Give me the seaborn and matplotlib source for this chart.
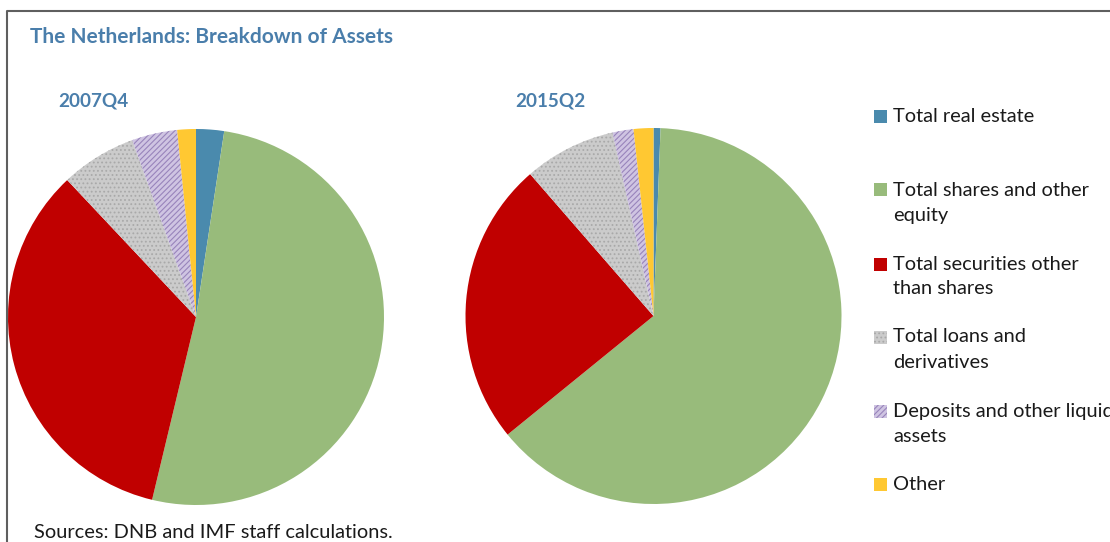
import numpy as np
import matplotlib
matplotlib.use("Agg")
import matplotlib.pyplot as plt
from matplotlib.patches import Rectangle
from matplotlib.lines import Line2D
import seaborn as sns

# data (shares of total assets, %)
categories = [
    "Total real estate",
    "Total shares and other\nequity",
    "Total securities other\nthan shares",
    "Total loans and\nderivatives",
    "Deposits and other liquid\nassets",
    "Other",
]
share_2007q4 = [2.4, 51.3, 34.2, 6.5, 3.9, 1.6]
share_2015q2 = [0.6, 63.6, 24.5, 7.9, 1.8, 1.7]
periods = ["2007Q4", "2015Q2"]

colors = ["#4a8aad", "#98bb7b", "#c00000", "#cbcbcb", "#cfc4e2", "#ffc832"]
hatch_colors = [None, None, None, "#a9a9a9", "#9884bb", None]
hatches = [None, None, None, "....", "//////", None]

W, H = 1110, 542
TITLE_BLUE = "#4a7eab"
TEXT_SIZE = 14.4

sns.set_theme(style="white")
plt.rcParams["font.family"] = ["Lato", "DejaVu Sans"]
plt.rcParams["hatch.linewidth"] = 0.8

fig = plt.figure(figsize=(W / 100, H / 100), dpi=100)


def px_axes(cx, cy, r):
    # pixel centre/radius -> figure-fraction axes box
    return [(cx - r) / W, (H - cy - r) / H, 2 * r / W, 2 * r / H]


def draw_pie(ax, values):
    wedges, _ = ax.pie(values, colors=colors, startangle=90, counterclock=False,
                       radius=1.0, wedgeprops=dict(linewidth=0))
    for w, h, hc in zip(wedges, hatches, hatch_colors):
        if h:
            w.set_hatch(h)
            w.set_edgecolor(hc)
            w.set_linewidth(0)
    ax.set_xlim(-1, 1)
    ax.set_ylim(-1, 1)
    ax.set_aspect("equal")
    ax.axis("off")
    return wedges


ax1 = fig.add_axes(px_axes(196, 317, 188))
ax2 = fig.add_axes(px_axes(653.5, 316, 188))
draw_pie(ax1, share_2007q4)
draw_pie(ax2, share_2015q2)

# frame lines (top and left)
fig.add_artist(Line2D([7 / W, 7 / W, 1.0], [0.0, 1 - 10.5 / H, 1 - 10.5 / H],
                      color="#5f5f5f", lw=1.5, transform=fig.transFigure))

fig.text(30 / W, 1 - 37 / H, "The Netherlands: Breakdown of Assets",
         color=TITLE_BLUE, fontsize=15, fontweight="bold", va="center", ha="left")
fig.text(58 / W, 1 - 101 / H, periods[0], color=TITLE_BLUE, fontsize=13.6,
         fontweight="bold", va="center", ha="left")
fig.text(515 / W, 1 - 101 / H, periods[1], color=TITLE_BLUE, fontsize=13.6,
         fontweight="bold", va="center", ha="left")

# legend, drawn entry by entry at a fixed pitch
first_line_y = [116, 190, 264, 337, 411, 484]
for lab, col, h, hc, y in zip(categories, colors, hatches, hatch_colors, first_line_y):
    sq = Rectangle((874 / W, 1 - (y + 6.5) / H), 13 / W, 13 / H,
                   transform=fig.transFigure, facecolor=col, linewidth=0,
                   hatch=h, edgecolor=hc if hc else col)
    fig.add_artist(sq)
    for i, line in enumerate(lab.split("\n")):
        fig.text(893 / W, 1 - (y + 25 * i) / H, line, fontsize=TEXT_SIZE,
                 color="#1a1a1a", va="center", ha="left")

fig.text(34 / W, 1 - 533 / H, "Sources: DNB and IMF staff calculations.",
         fontsize=TEXT_SIZE, color="#1a1a1a", va="center", ha="left")

fig.savefig("out.png", dpi=100, facecolor="white")
